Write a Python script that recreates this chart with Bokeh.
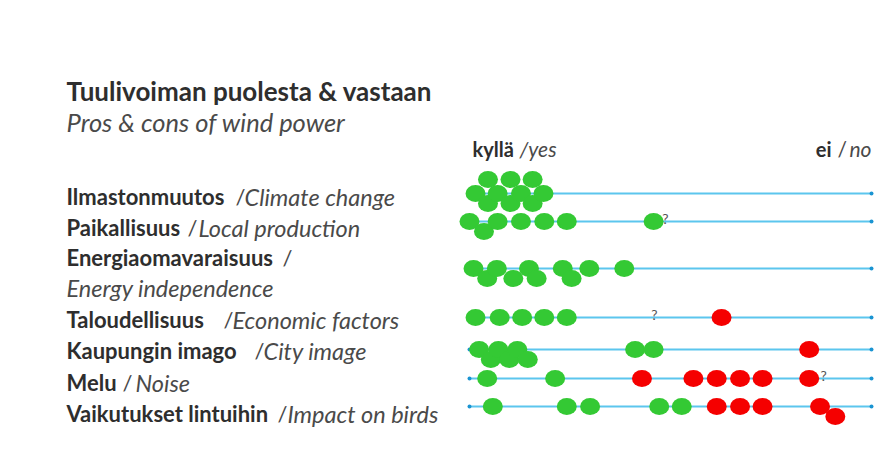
from bokeh.plotting import figure
from bokeh.models import Range1d, ColumnDataSource
from bokeh.embed import file_html
from bokeh.resources import INLINE
from bokeh.core.properties import value

# ---------------- data ----------------
TITLE = "Tuulivoiman puolesta & vastaan"
SUBTITLE = "Pros & cons of wind power"
SCALE_LEFT = ("kyllä", "/yes")
SCALE_RIGHT = ("ei", "/", "no")

ROW_FI = ["Ilmastonmuutos", "Paikallisuus", "Energiaomavaraisuus", "Taloudellisuus",
          "Kaupungin imago", "Melu", "Vaikutukset lintuihin"]
ROW_EN = ["Climate change", "Local production", "Energy independence", "Economic factors",
          "City image", "Noise", "Impact on birds"]

# answers on a 0 (yes) .. 100 (no) scale
YES_VALUES = [
    [1.5, 4.6, 4.6, 7.0, 10.2, 10.2, 12.8, 15.7, 15.7, 18.4],
    [0.0, 3.6, 7.0, 12.8, 18.6, 24.2, 45.8],
    [1.0, 4.4, 6.8, 10.9, 14.8, 16.7, 23.2, 25.4, 29.8, 38.5],
    [1.5, 7.5, 13.1, 18.6, 24.2],
    [2.4, 5.3, 7.2, 9.9, 11.9, 14.5, 41.2, 45.8],
    [4.4, 21.3],
    [5.8, 24.2, 30.0, 47.2, 52.8],
]
NO_VALUES = [
    [],
    [],
    [],
    [62.7],
    [84.5],
    [42.9, 55.7, 61.5, 67.3, 72.9, 84.5],
    [61.5, 67.3, 72.9, 87.2, 91.0],
]
UNSURE_VALUES = [[], [48.7], [], [46.0], [], [88.1], []]

# ---------------- layout (pixels) ----------------
W, H = 874, 434
LINE_X0, LINE_X1 = 469, 871          # pixel span of the 0..100 scale
ROW_LINE_Y = [193, 221, 268, 317, 349, 378, 406]
LABEL_BASE = [196, 227, 257, 319, 350, 382, 413]
SLASH_X = [235, 187, 282, 223, 254, 122, 277]
EN_X = [244, 198, 66, 232, 263, 135, 287]
EN_BASE = [196, 227, 287, 319, 350, 382, 413]
LEFT_X = 66

GREEN = "#34c934"
RED = "#f50000"
LINE_BLUE = "#5cc6ee"
END_BLUE = "#1a94d2"
DARK = "#2e2e2e"
GREY = "#4a4a4a"
FONT = value("Lato")

px_per_unit = (LINE_X1 - LINE_X0) / 100.0
scale_start = -LINE_X0 / px_per_unit
scale_end = 100 + (W - LINE_X1) / px_per_unit

p = figure(width=W, height=H, x_range=Range1d(0, W), y_range=Range1d(H, 0),
           output_backend="svg", toolbar_location=None, min_border=0)
p.extra_x_ranges = {"scale": Range1d(scale_start, scale_end)}
p.axis.visible = False
p.grid.visible = False
p.outline_line_color = None
p.background_fill_color = "white"
p.border_fill_color = "white"

# swarm placement
DOT_GAP = 18 / px_per_unit
LANE_OFFSET = {0: 0, 1: 10, -1: -14}


def swarm(points):
    lanes = {0: [], 1: [], -1: []}
    out = []
    for v, c in sorted(points, key=lambda t: t[0]):
        chosen = 0
        for lane in (0, 1, -1):
            if all(abs(v - u) >= DOT_GAP for u in lanes[lane]):
                chosen = lane
                break
        lanes[chosen].append(v)
        out.append((v, chosen, c))
    return out


# lines
n = len(ROW_LINE_Y)
p.segment(x0=[0] * n, x1=[100] * n, y0=ROW_LINE_Y, y1=ROW_LINE_Y,
          x_range_name="scale", line_color=LINE_BLUE, line_width=2)
p.scatter(x=[0] * n + [100] * n, y=ROW_LINE_Y + ROW_LINE_Y,
          x_range_name="scale", size=4, marker="circle", fill_color=END_BLUE, line_color=None)

dx, dy, dc = [], [], []
for i, ry in enumerate(ROW_LINE_Y):
    pts = [(v, GREEN) for v in YES_VALUES[i]] + [(v, RED) for v in NO_VALUES[i]]
    for v, lane, c in swarm(pts):
        dx.append(v)
        dy.append(ry + LANE_OFFSET[lane])
        dc.append(c)
src = ColumnDataSource(dict(x=dx, y=dy, c=dc))
p.ellipse(x="x", y="y", width=20, height=17, width_units="screen", height_units="screen",
          source=src, x_range_name="scale", fill_color="c", line_color=None)

qx, qy = [], []
for i, ry in enumerate(ROW_LINE_Y):
    for v in UNSURE_VALUES[i]:
        qx.append(v)
        qy.append(ry - 3)
p.text(x=qx, y=qy, text=["?"] * len(qx), x_range_name="scale", text_font=FONT,
       text_font_size="14px", text_color="#555555", text_align="center", text_baseline="middle")

# title
p.text(x=[LEFT_X], y=[90], text=[TITLE], text_font=FONT, text_font_size="26px",
       text_font_style="bold", text_color=DARK, text_baseline="alphabetic")
p.text(x=[LEFT_X], y=[121], text=[SUBTITLE], text_font=FONT, text_font_size="25.5px",
       text_font_style="italic", text_color=GREY, text_baseline="alphabetic")

# scale ends
p.text(x=[LINE_X0 + 3], y=[148], text=[SCALE_LEFT[0]], text_font=FONT, text_font_size="20px",
       text_font_style="bold", text_color=DARK, text_baseline="alphabetic")
p.text(x=[LINE_X0 + 50], y=[148], text=[SCALE_LEFT[1]], text_font=FONT, text_font_size="21px",
       text_font_style="italic", text_color=GREY, text_baseline="alphabetic")
p.text(x=[LINE_X1 - 40], y=[148], text=[SCALE_RIGHT[0]], text_font=FONT, text_font_size="20px",
       text_font_style="bold", text_color=DARK, text_baseline="alphabetic", text_align="right")
p.text(x=[LINE_X1 - 34], y=[148], text=[SCALE_RIGHT[1]], text_font=FONT, text_font_size="21px",
       text_color=GREY, text_baseline="alphabetic")
p.text(x=[LINE_X1], y=[148], text=[SCALE_RIGHT[2]], text_font=FONT, text_font_size="21px",
       text_font_style="italic", text_color=GREY, text_baseline="alphabetic", text_align="right")

# row labels
p.text(x=[LEFT_X] * len(ROW_FI), y=LABEL_BASE, text=ROW_FI, text_font=FONT,
       text_font_size="22px", text_font_style="bold", text_color=DARK, text_baseline="alphabetic")
p.text(x=SLASH_X, y=LABEL_BASE, text=["/"] * len(ROW_FI), text_font=FONT,
       text_font_size="22px", text_color=GREY, text_baseline="alphabetic")
p.text(x=EN_X, y=EN_BASE, text=ROW_EN, text_font=FONT,
       text_font_size="23.5px", text_font_style="italic", text_color=GREY, text_baseline="alphabetic")

open("out.html", "w").write(file_html(p, INLINE))
